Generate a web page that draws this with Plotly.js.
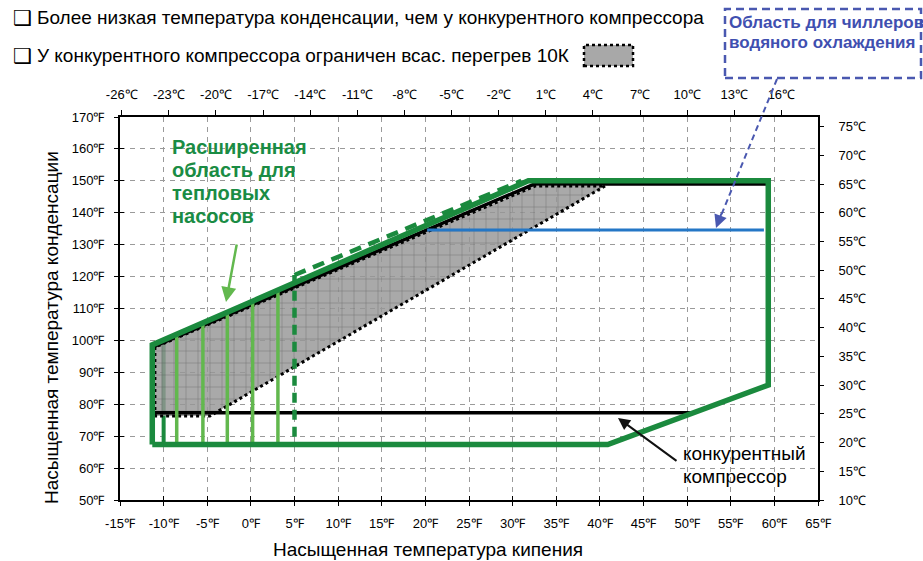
<!DOCTYPE html>
<html>
<head>
<meta charset="utf-8">
<script src="https://cdn.plot.ly/plotly-3.0.1.min.js"></script>
<style>html,body{margin:0;padding:0;background:#fff;}#chart{width:923px;height:561px;}</style>
</head>
<body>
<div id="chart"></div>
<script>
// ---- data (°F) ----
// extended heat-pump envelope (green)
const envX = [-11.3, 40.9, 59.3, 59.3, 31.8, -11.3, -11.3];
const envY = [67.4, 67.4, 86.0, 150.0, 150.0, 98.6, 67.4];
// competitor envelope (black)
const compX = [-11.2, 50.7, 59.3, 59.3, 32.5, -11.2, -11.2];
const compY = [77.3, 77.3, 86.0, 149.0, 149.0, 98.0, 77.3];
// competitor limited to 10K suction superheat (grey hatched)
const shX = [-11.0, -11.0, 32.6, 40.6, -4.7, -11.0];
const shY = [76.3, 97.9, 148.4, 148.4, 76.3, 76.3];
// light-green verticals of extended area
const vertX = [-8.5, -5.5, -2.7, 0.2, 3.1];
const vertTop = [101.8, 105.3, 108.6, 112.0, 115.2];
const vertBottom = 67.4;
// dark-green vertical at -10°F
const darkVX = [-10.0, -10.0];
const darkVY = [67.4, 99.0];
// dashed green boundary
const dashVX = [5.0, 5.0];
const dashVY = [69.8, 120.5];
const dashDX = [5.0, 31.0];
const dashDY = [120.5, 150.0];
// water chiller line (blue)
const blueX = [20.2, 58.8];
const blueY = [134.6, 134.6];

// axis ticks
const xTicksF = [-15,-10,-5,0,5,10,15,20,25,30,35,40,45,50,55,60,65];
const yTicksF = [50,60,70,80,90,100,110,120,130,140,150,160,170];
const xTicksC = [-26,-23,-20,-17,-14,-11,-8,-5,-2,1,4,7,10,13,16];
const yTicksC = [10,15,20,25,30,35,40,45,50,55,60,65,70,75];

// ---- layout helpers (pixel -> paper) ----
const L = 120, T = 117, W = 698, H = 383;
const PX = p => (p - L) / W;
const PY = p => (T + H - p) / H;

const vx = [], vy = [];
vertX.forEach((x, i) => { vx.push(x, x, null); vy.push(vertBottom, vertTop[i], null); });

const DG = '#1b8a3e', LG = '#62b84e', FONT = 'Liberation Sans, Arial, sans-serif';

const traces = [
  {x: darkVX, y: darkVY, mode: 'lines', line: {color: DG, width: 4}, hoverinfo: 'skip'},
  {x: shX, y: shY, mode: 'lines', fill: 'toself', fillcolor: 'rgba(150,150,150,0.8)',
   fillpattern: {shape: '+', bgcolor: 'rgba(150,150,150,0.82)', fgcolor: 'rgba(70,70,70,0.5)', size: 12, solidity: 0.09},
   line: {color: '#000', width: 3, dash: 'dot'}, hoverinfo: 'skip'},
  {x: compX, y: compY, mode: 'lines', line: {color: '#000', width: 3.5}, hoverinfo: 'skip'},
  {x: vx, y: vy, mode: 'lines', line: {color: LG, width: 3.5}, connectgaps: false, hoverinfo: 'skip'},
  {x: dashVX, y: dashVY, mode: 'lines', line: {color: DG, width: 4.5, dash: '10px,7px'}, hoverinfo: 'skip'},
  {x: dashDX, y: dashDY, mode: 'lines', line: {color: DG, width: 4.5, dash: '12px,8px'}, hoverinfo: 'skip'},
  {x: envX, y: envY, mode: 'lines', line: {color: DG, width: 5.5}, hoverinfo: 'skip'},
  {x: blueX, y: blueY, mode: 'lines', line: {color: '#2477c6', width: 3}, hoverinfo: 'skip'},
  {x: [], y: [], xaxis: 'x2', yaxis: 'y2', mode: 'lines', hoverinfo: 'skip'},
  {x: [], y: [], xaxis: 'x3', yaxis: 'y3', mode: 'lines', hoverinfo: 'skip'}
];

const tickFont = {family: FONT, size: 13, color: '#000'};
const txt = (x, y, s, size, color, bold, extra) => Object.assign({
  xref: 'paper', yref: 'paper', x: PX(x), y: PY(y), xanchor: 'left', yanchor: 'middle', showarrow: false,
  text: bold ? '<b>' + s + '</b>' : s, font: {family: FONT, size: size, color: color}}, extra || {});

const layout = {
  width: 923, height: 561,
  margin: {l: L, r: 923 - L - W, t: T, b: 561 - T - H},
  paper_bgcolor: '#fff', plot_bgcolor: '#fff',
  showlegend: false,
  xaxis: {range: [-15, 65], tickvals: xTicksF, ticktext: xTicksF.map(v => v + '℉'),
    showgrid: true, gridcolor: '#9a9a9a', griddash: '5px,5px', gridwidth: 1,
    zeroline: false, showline: true, linecolor: '#000', linewidth: 2,
    ticks: 'outside', ticklen: 4, tickcolor: '#000', tickfont: tickFont, ticklabelstandoff: 6},
  yaxis: {range: [50, 170], tickvals: yTicksF, ticktext: yTicksF.map(v => v + '℉'),
    showgrid: true, gridcolor: '#9a9a9a', griddash: '5px,5px', gridwidth: 1,
    zeroline: false, showline: true, linecolor: '#000', linewidth: 2,
    ticks: 'outside', ticklen: 4, tickcolor: '#000', tickfont: tickFont, ticklabelstandoff: 7},
  xaxis2: {overlaying: 'x', side: 'top', anchor: 'y2', range: [(-15 - 32) / 1.8, (65 - 32) / 1.8],
    tickvals: xTicksC, ticktext: xTicksC.map(v => v + '℃'), showgrid: false, zeroline: false,
    showline: true, linecolor: '#000', linewidth: 2, ticks: 'outside', ticklen: 5, tickcolor: '#000',
    tickfont: tickFont, ticklabelstandoff: 6},
  yaxis2: {overlaying: 'y', side: 'right', anchor: 'x2', range: [10, (170 - 32) / 1.8],
    tickvals: yTicksC, ticktext: yTicksC.map(v => v + '℃'), showgrid: false, zeroline: false,
    showline: true, linecolor: '#000', linewidth: 2, ticks: 'outside', ticklen: 4, tickcolor: '#000',
    tickfont: tickFont, ticklabelstandoff: 12},
  xaxis3: {overlaying: 'x', anchor: 'y3', range: [-15, 65], tickvals: xTicksF, showticklabels: false,
    showgrid: false, zeroline: false, ticks: 'inside', ticklen: 4, tickcolor: '#000'},
  yaxis3: {overlaying: 'y', anchor: 'x3', range: [50, 170], tickvals: yTicksF, showticklabels: false,
    showgrid: false, zeroline: false, ticks: 'inside', ticklen: 4, tickcolor: '#000'},
  shapes: [
    // legend swatch for hatched area
    {type: 'rect', xref: 'paper', yref: 'paper', x0: PX(584), x1: PX(633), y0: PY(66), y1: PY(45),
     fillcolor: '#a8a8a8', line: {color: '#000', width: 2.5, dash: 'dot'}},
    // chiller callout box
    {type: 'rect', xref: 'paper', yref: 'paper', x0: PX(725), x1: PX(921), y0: PY(78), y1: PY(9),
     line: {color: '#4a58b0', width: 2.5, dash: '8px,5px'}},
    {type: 'line', xref: 'paper', yref: 'paper', x0: PX(777), y0: PY(79), x1: PX(720), y1: PY(218),
     line: {color: '#4a58b0', width: 2, dash: '6px,4px'}}
  ],
  annotations: [
    txt(11, 18, '❑', 21, '#000', false, {font: {family: 'DejaVu Sans', size: 21, color: '#000'}}),
    txt(35, 18, 'Более низкая температура конденсации, чем у конкурентного компрессора', 19, '#000'),
    txt(11, 56, '❑', 21, '#000', false, {font: {family: 'DejaVu Sans', size: 21, color: '#000'}}),
    txt(35, 56, 'У конкурентного компрессора ограничен всас. перегрев 10К', 19, '#000'),
    txt(727, 22, 'Область для чиллеров', 17, '#3f4fb0', true),
    txt(727, 43, 'водяного охлаждения', 17, '#3f4fb0', true),
    txt(170, 147, 'Расширенная', 20, '#1a8c44', true),
    txt(170, 170, 'область для', 20, '#1a8c44', true),
    txt(170, 193, 'тепловых', 20, '#1a8c44', true),
    txt(170, 216, 'насосов', 20, '#1a8c44', true),
    txt(681, 453, 'конкурентный', 19, '#000'),
    txt(681, 476, 'компрессор', 19, '#000'),
    // arrows
    {xref: 'paper', yref: 'paper', x: PX(716), y: PY(228), ax: 6, ay: -16, text: '', showarrow: true,
     arrowhead: 2, arrowsize: 1.3, arrowwidth: 2, arrowcolor: '#4a58b0'},
    {xref: 'paper', yref: 'paper', x: PX(226), y: PY(302), ax: 11, ay: -59, text: '', showarrow: true,
     arrowhead: 2, arrowsize: 1.2, arrowwidth: 2.5, arrowcolor: LG},
    {xref: 'paper', yref: 'paper', x: PX(618), y: PY(418), ax: 60, ay: 44, text: '', showarrow: true,
     arrowhead: 2, arrowsize: 1.2, arrowwidth: 2, arrowcolor: '#111'},
    // axis titles
    txt(428, 549, 'Насыщенная температура кипения', 19, '#000', false, {xanchor: 'center'}),
    txt(51, 328, 'Насыщенная температура конденсации', 19, '#000', false, {xanchor: 'center', textangle: -90})
  ]
};

Plotly.newPlot('chart', traces, layout, {staticPlot: true, displayModeBar: false});
</script>
</body>
</html>
